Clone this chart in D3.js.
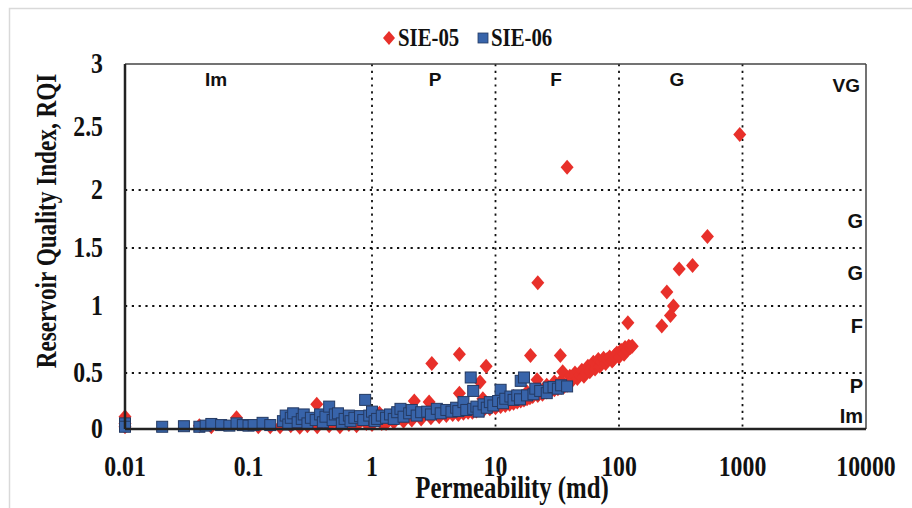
<!DOCTYPE html>
<html><head><meta charset="utf-8">
<script src="https://cdn.jsdelivr.net/npm/d3@7"></script>
<style>body{margin:0;background:#fff}svg{display:block}</style>
</head><body>
<script>
// ---- data ----
const seriesNames = ["SIE-05", "SIE-06"];
const xTicks = [0.01, 0.1, 1, 10, 100, 1000, 10000];
const xTickLabels = ["0.01", "0.1", "1", "10", "100", "1000", "10000"];
const yTicks = [0, 0.5, 1, 1.5, 2, 2.5, 3];
const yTickLabels = ["0", "0.5", "1", "1.5", "2", "2.5", "3"];
const xGrid = [1, 10, 100, 1000];
const yGrid = [0.5, 1, 1.5, 2];
const topZones = ["Im", "P", "F", "G", "VG"];
const rightZones = ["G", "G", "F", "P", "Im"];

// SIE-05: [permeability (md), RQI]
const sie05 = [
  [0.01,0.11],[0.01,0.05],[0.01,0.02],[0.04,0.03],[0.05,0.02],[0.08,0.1],[0.12,0.02],[0.15,0.02],
  [0.18,0.02],[0.22,0.03],[0.26,0.015],[0.3,0.03],[0.357,0.22],[0.36,0.02],[0.45,0.03],[0.55,0.02],
  [0.65,0.04],[0.75,0.03],[0.9,0.05],[1.0,0.04],[1.1,0.11],[1.15,0.14],[1.2,0.05],
  [1.3,0.05],[1.5,0.06],[1.8,0.07],[2.1,0.08],[2.2,0.25],[2.5,0.09],[2.9,0.24],[3,0.1],[3.05,0.57],
  [3.5,0.11],[4,0.12],[4.5,0.13],[5,0.13],[5.1,0.64],[5.1,0.32],[5.5,0.14],[6,0.15],[6.5,0.15],
  [7,0.16],[7.5,0.42],[7.9,0.27],[8,0.17],[8.4,0.55],[9,0.18],[10,0.19],[11,0.2],[12,0.21],[13,0.22],
  [14,0.23],[14,0.29],[15,0.24],[16,0.25],[17,0.26],[18,0.27],[18,0.33],[19,0.28],[19.2,0.63],
  [20,0.29],[21.7,0.44],[22,1.2],[22,0.3],[22,0.37],[24,0.31],[26,0.33],[26,0.39],[28,0.34],
  [30,0.35],[30,0.42],[32,0.36],[33.5,0.63],[34,0.37],[34,0.43],[35,0.51],[36,0.38],[38,0.39],[38,2.18],
  [40,0.41],[40,0.47],[42,0.44],[44,0.5],[46,0.45],[48,0.48],[50,0.52],[52,0.47],[54,0.5],[56,0.55],
  [58,0.51],[60,0.54],[62,0.58],[64,0.53],[66,0.56],[68,0.6],[70,0.55],[72,0.58],[75,0.61],[78,0.57],
  [80,0.6],[84,0.62],[88,0.59],[90,0.6],[92,0.63],[96,0.65],[100,0.62],[104,0.67],[108,0.65],
  [110,0.64],[112,0.69],[116,0.67],[118,0.875],[120,0.7],[124,0.69],[128,0.7],
  [222,0.85],[244,1.12],[261,0.93],[276,1.0],[307,1.32],[394,1.35],[520,1.6],[950,2.44]
];

// SIE-06: [permeability (md), RQI]
const sie06 = [
  [0.01,0.03],[0.01,0.05],[0.01,0.02],[0.02,0.02],[0.03,0.025],[0.04,0.02],[0.045,0.03],[0.05,0.045],
  [0.06,0.035],[0.07,0.03],[0.08,0.05],[0.09,0.035],[0.1,0.03],[0.11,0.035],[0.13,0.055],[0.15,0.035],
  [0.19,0.07],[0.2,0.12],[0.21,0.04],[0.22,0.1],[0.23,0.14],[0.25,0.06],[0.27,0.09],[0.28,0.13],
  [0.3,0.05],[0.32,0.1],[0.35,0.08],[0.38,0.13],[0.4,0.06],[0.42,0.11],[0.45,0.2],[0.48,0.08],
  [0.5,0.13],[0.53,0.14],[0.57,0.05],[0.6,0.09],[0.65,0.12],[0.67,0.07],[0.72,0.1],[0.8,0.115],
  [0.85,0.08],[0.88,0.26],[0.95,0.12],[1.0,0.155],[1.05,0.07],[1.1,0.09],[1.2,0.12],[1.3,0.1],
  [1.4,0.13],[1.5,0.09],[1.6,0.15],[1.7,0.18],[1.8,0.11],[2.0,0.14],[2.1,0.17],[2.3,0.12],[2.5,0.15],
  [2.8,0.155],[3.0,0.13],[3.35,0.18],[3.6,0.14],[4.0,0.17],[4.4,0.155],[4.8,0.19],[5.0,0.16],
  [5.5,0.24],[5.8,0.17],[6.3,0.46],[6.6,0.34],[6.6,0.18],[7.0,0.2],[7.3,0.155],[8.0,0.22],[8.5,0.19],
  [9.0,0.24],[9.6,0.21],[10.5,0.25],[11,0.35],[11.5,0.23],[12,0.27],[13.2,0.29],[14,0.26],[15,0.3],
  [15.8,0.265],[16,0.43],[17,0.46],[18,0.3],[20.3,0.31],[21,0.36],[23,0.34],[26,0.32],[27,0.37],
  [29.5,0.375],[32,0.36],[34,0.39],[38,0.38]
];

// ---- layout ----
const W = 912, H = 508;
const pLeft = 125, pRight = 866, pTop = 64, pBottom = 429;

const svg = d3.select("body").append("svg").attr("width", W).attr("height", H);

svg.append("rect").attr("x", 9.5).attr("y", 8.5).attr("width", W).attr("height", H)
  .attr("fill", "none").attr("stroke", "#d9d9d9").attr("stroke-width", 1.5);

const x = d3.scaleLog().domain([0.01, 10000]).range([pLeft, pRight]);
const y = d3.scaleLinear().domain([0, 0.5, 1, 1.5, 2, 3]).range([pBottom, 373, 306, 248, 190, pTop]);

const serif = "'Liberation Serif','Times New Roman',serif";
const sans = "'Liberation Sans',Arial,sans-serif";

// grid
const grid = svg.append("g").attr("stroke", "#111").attr("stroke-width", 1.8)
  .attr("stroke-dasharray", "2.2,4.6");
grid.selectAll("line.v").data(xGrid).join("line").attr("class","v")
  .attr("x1", d => x(d)).attr("x2", d => x(d)).attr("y1", pTop).attr("y2", pBottom);
grid.selectAll("line.h").data(yGrid).join("line").attr("class","h")
  .attr("x1", pLeft).attr("x2", pRight).attr("y1", d => y(d)).attr("y2", d => y(d));

// frame top/right
svg.append("line").attr("x1", pLeft).attr("x2", pRight).attr("y1", pTop).attr("y2", pTop)
  .attr("stroke", "#444").attr("stroke-width", 1.5);
svg.append("line").attr("x1", pRight).attr("x2", pRight).attr("y1", pTop).attr("y2", pBottom)
  .attr("stroke", "#444").attr("stroke-width", 1.5);

// zone labels
const topZoneX = [216, 435, 556, 677, 860];
svg.selectAll("text.tz").data(topZones).join("text").attr("class","tz")
  .attr("x", (d,i) => topZoneX[i]).attr("y", (d,i) => i === 4 ? 92 : 86)
  .attr("text-anchor", (d,i) => i === 4 ? "end" : "middle")
  .attr("font-family", sans).attr("font-weight", "bold").attr("font-size", 19)
  .attr("fill", "#111").text(d => d);
const rightZoneY = [228, 280, 333, 393, 423];
svg.selectAll("text.rz").data(rightZones).join("text").attr("class","rz")
  .attr("x", 863).attr("y", (d,i) => rightZoneY[i]).attr("text-anchor", "end")
  .attr("font-family", sans).attr("font-weight", "bold").attr("font-size", 20)
  .attr("fill", "#111").text(d => d);

// markers
const diamond = "M0,-7.5L6.5,0L0,7.5L-6.5,0Z";
svg.append("g").selectAll("path").data(sie05).join("path")
  .attr("d", diamond)
  .attr("transform", d => `translate(${x(d[0])},${y(d[1])})`)
  .attr("fill", "#e8302a");
svg.append("g").selectAll("rect").data(sie06).join("rect")
  .attr("x", d => x(d[0]) - 5.5).attr("y", d => y(d[1]) - 5.5)
  .attr("width", 11).attr("height", 11)
  .attr("fill", "#3864aa").attr("stroke", "#243a63").attr("stroke-width", 1);

// axes lines
svg.append("line").attr("x1", pLeft).attr("x2", pLeft).attr("y1", pTop).attr("y2", pBottom)
  .attr("stroke", "#222").attr("stroke-width", 2.5);
svg.append("line").attr("x1", pLeft).attr("x2", pRight).attr("y1", pBottom).attr("y2", pBottom)
  .attr("stroke", "#222").attr("stroke-width", 2.5);

// tick labels
svg.selectAll("text.xt").data(xTicks).join("text").attr("class","xt")
  .attr("transform", d => `translate(${x(d)},476) scale(0.82,1)`)
  .attr("text-anchor", "middle").attr("font-family", serif).attr("font-weight", "bold")
  .attr("font-size", 29).attr("fill", "#111").text((d,i) => xTickLabels[i]);
svg.selectAll("text.yt").data(yTicks).join("text").attr("class","yt")
  .attr("transform", d => `translate(103,${y(d) + 9}) scale(0.82,1)`)
  .attr("text-anchor", "end").attr("font-family", serif).attr("font-weight", "bold")
  .attr("font-size", 29).attr("fill", "#111").text((d,i) => yTickLabels[i]);

// axis titles
svg.append("text").attr("transform", "translate(512,498) scale(0.8,1)")
  .attr("text-anchor", "middle").attr("font-family", serif).attr("font-weight", "bold")
  .attr("font-size", 31).attr("fill", "#111").text("Permeability (md)");
svg.append("text").attr("transform", "translate(56,221) rotate(-90) scale(0.8,1)")
  .attr("text-anchor", "middle").attr("font-family", serif).attr("font-weight", "bold")
  .attr("font-size", 29).attr("fill", "#111").text("Reservoir Quality Index, RQI");

// legend
const lg = svg.append("g");
lg.append("path").attr("d", "M0,-7L6,0L0,7L-6,0Z").attr("transform", "translate(389,38)").attr("fill", "#e8302a");
lg.append("text").attr("transform", "translate(398,46) scale(0.8,1)").attr("font-family", serif)
  .attr("font-weight", "bold").attr("font-size", 26).attr("fill", "#111").text(seriesNames[0]);
lg.append("rect").attr("x", 478).attr("y", 33).attr("width", 10).attr("height", 10)
  .attr("fill", "#3864aa").attr("stroke", "#243a63").attr("stroke-width", 0.8);
lg.append("text").attr("transform", "translate(491,46) scale(0.8,1)").attr("font-family", serif)
  .attr("font-weight", "bold").attr("font-size", 26).attr("fill", "#111").text(seriesNames[1]);
</script>
</body></html>
